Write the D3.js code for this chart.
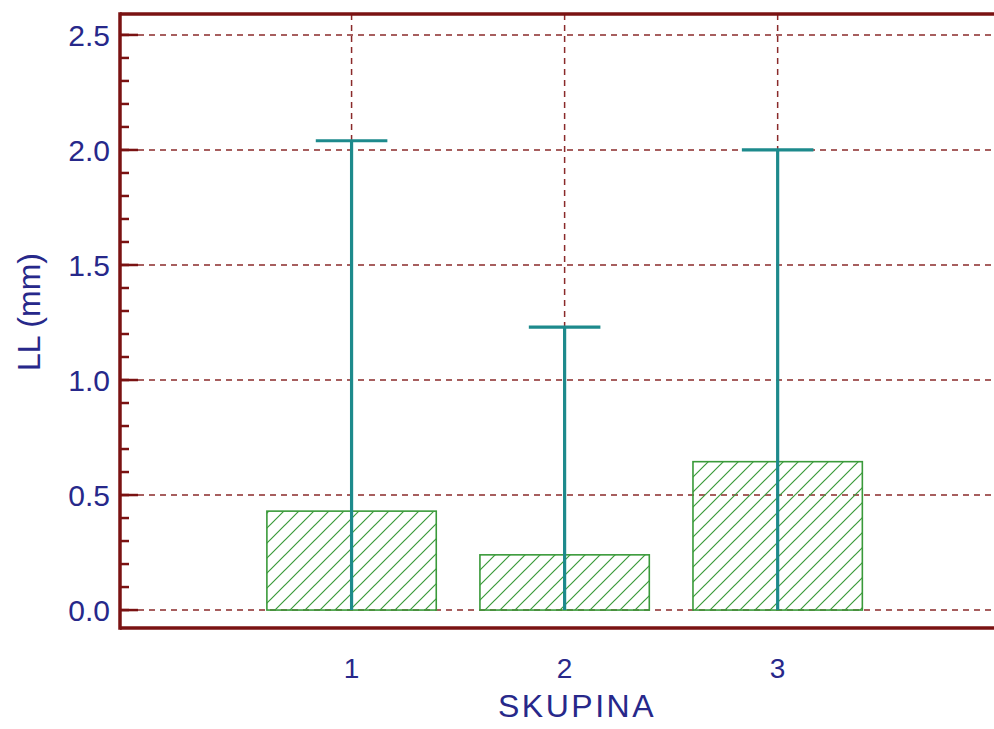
<!DOCTYPE html>
<html>
<head>
<meta charset="utf-8">
<script src="https://cdn.jsdelivr.net/npm/d3@7"></script>
<style>
html,body{margin:0;padding:0;background:#fff;overflow:hidden;}
svg{display:block;}
text{font-family:"Liberation Sans",Arial,sans-serif;fill:#27288a;}
</style>
</head>
<body>
<svg id="chart" width="994" height="729"></svg>
<script>
const categories = [1, 2, 3];
const means = [0.43, 0.24, 0.645];
const errLow = [0, 0, 0];
const errHigh = [2.04, 1.23, 2.0];
const yTicks = [0, 0.5, 1.0, 1.5, 2.0, 2.5];
const yMinorTicks = d3.range(0, 2.55, 0.1);
const xTitle = "SKUPINA";
const yTitle = "LL (mm)";

(function () {
const W = 994, H = 729;
const svg = d3.select("#chart");
const axisColor = "#7a1212";
const gridColor = "#8a2a2a";
const teal = "#1d8a8c";
const green = "#3a9a3a";

const pLeft = 120, pTop = 14, pBottom = 628, pRight = 1012;
const x = d3.scaleLinear().domain([-0.087, 4.1]).range([pLeft, pRight]);
const y = d3.scaleLinear().domain([-0.078, 2.591]).range([pBottom, pTop]);

// hatch pattern
const defs = svg.append("defs");
const pat = defs.append("pattern").attr("id", "hatch")
  .attr("patternUnits", "userSpaceOnUse").attr("width", 15).attr("height", 15);
pat.append("path").attr("d", "M0,15 L15,0 M-3,3 L3,-3 M12,18 L18,12")
  .attr("stroke", green).attr("stroke-width", 1.2).attr("fill", "none");

const g = svg.append("g");
// grid
g.selectAll(".hg").data(yTicks).join("line")
  .attr("x1", pLeft + 18).attr("x2", W)
  .attr("y1", d => y(d)).attr("y2", d => y(d))
  .attr("stroke", gridColor).attr("stroke-width", 1.5).attr("stroke-dasharray", "6,5");
g.selectAll(".vg").data(categories).join("line")
  .attr("x1", d => x(d)).attr("x2", d => x(d))
  .attr("y1", pTop).attr("y2", y(0))
  .attr("stroke", gridColor).attr("stroke-width", 1.5).attr("stroke-dasharray", "6,5");

// bars
const data = categories.map((c, i) => ({c, m: means[i], lo: errLow[i], hi: errHigh[i]}));
const bw = 0.795;
g.selectAll(".bar").data(data).join("rect")
  .attr("x", d => x(d.c - bw / 2)).attr("width", x(bw) - x(0))
  .attr("y", d => y(d.m)).attr("height", d => y(0) - y(d.m))
  .attr("fill", "url(#hatch)").attr("stroke", green).attr("stroke-width", 1.6);

// error bars
const cap = 0.168;
g.selectAll(".err").data(data).join("line")
  .attr("x1", d => x(d.c)).attr("x2", d => x(d.c))
  .attr("y1", d => y(d.lo)).attr("y2", d => y(d.hi))
  .attr("stroke", teal).attr("stroke-width", 3.2);
g.selectAll(".cap").data(data).join("line")
  .attr("x1", d => x(d.c - cap)).attr("x2", d => x(d.c + cap))
  .attr("y1", d => y(d.hi)).attr("y2", d => y(d.hi))
  .attr("stroke", teal).attr("stroke-width", 3.2);

// y axis ticks
g.selectAll(".mt").data(yMinorTicks).join("line")
  .attr("x1", pLeft).attr("x2", pLeft + 9)
  .attr("y1", d => y(d)).attr("y2", d => y(d))
  .attr("stroke", axisColor).attr("stroke-width", 2.5);
g.selectAll(".Mt").data(yTicks).join("line")
  .attr("x1", pLeft).attr("x2", pLeft + 18)
  .attr("y1", d => y(d)).attr("y2", d => y(d))
  .attr("stroke", axisColor).attr("stroke-width", 2.5);
g.selectAll(".yl").data(yTicks).join("text")
  .attr("x", 110).attr("y", d => y(d)).attr("dy", "0.36em")
  .attr("text-anchor", "end").attr("font-size", 30)
  .text(d => d3.format(".1f")(d));

// frame
g.append("line").attr("x1", pLeft).attr("x2", W).attr("y1", pTop).attr("y2", pTop)
  .attr("stroke", axisColor).attr("stroke-width", 3.5);
g.append("line").attr("x1", pLeft).attr("x2", W).attr("y1", pBottom).attr("y2", pBottom)
  .attr("stroke", axisColor).attr("stroke-width", 3.5);
g.append("line").attr("x1", pLeft).attr("x2", pLeft).attr("y1", pTop - 1.75).attr("y2", pBottom + 1.75)
  .attr("stroke", axisColor).attr("stroke-width", 3.5);

// x labels
g.selectAll(".xl").data(categories).join("text")
  .attr("x", d => x(d)).attr("y", 668).attr("dy", "0.35em")
  .attr("text-anchor", "middle").attr("font-size", 28)
  .text(d => d);

g.append("text").attr("x", 577).attr("y", 717)
  .attr("text-anchor", "middle").attr("font-size", 32).attr("letter-spacing", 2.5)
  .text(xTitle);
g.append("text").attr("transform", `translate(40,312) rotate(-90)`)
  .attr("text-anchor", "middle").attr("font-size", 32)
  .text(yTitle);
})();
</script>
</body>
</html>
